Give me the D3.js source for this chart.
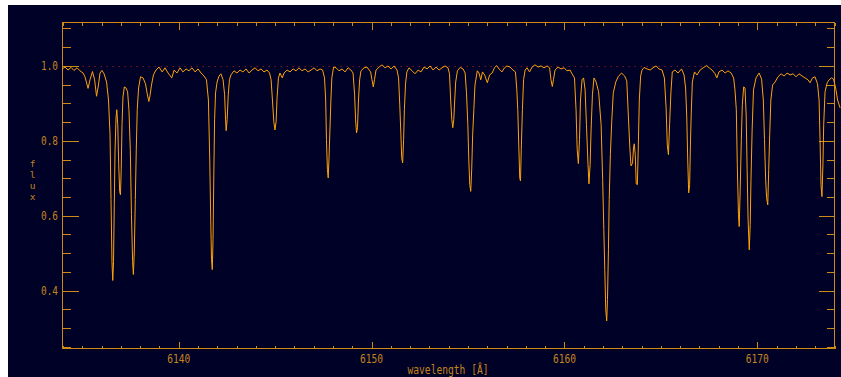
<!DOCTYPE html>
<html>
<head>
<meta charset="utf-8">
<script src="https://cdn.jsdelivr.net/npm/d3@7"></script>
<style>
  html, body { margin: 0; padding: 0; background: #fff; }
  #spectrum { width: 841px; height: 377px; }
  text { font-family: "DejaVu Sans Mono", monospace; }
</style>
</head>
<body>
<div id="spectrum"></div>
<script>
const wavelength = [
  6133.95, 6134.11, 6134.26, 6134.42, 6134.57, 6134.73, 6134.88, 6135.04, 6135.14, 6135.30,
  6135.40, 6135.53, 6135.64, 6135.74, 6135.84, 6135.92, 6136.02, 6136.13, 6136.26, 6136.36,
  6136.44, 6136.49, 6136.54, 6136.58, 6136.62, 6136.66, 6136.70, 6136.75, 6136.79, 6136.84,
  6136.89, 6136.94, 6136.98, 6137.02, 6137.06, 6137.11, 6137.18, 6137.27, 6137.35, 6137.42,
  6137.49, 6137.55, 6137.61, 6137.65, 6137.70, 6137.75, 6137.80, 6137.85, 6137.92, 6138.02,
  6138.15, 6138.28, 6138.36, 6138.45, 6138.51, 6138.59, 6138.69, 6138.82, 6138.98, 6139.14,
  6139.29, 6139.45, 6139.64, 6139.76, 6139.91, 6140.07, 6140.22, 6140.38, 6140.53, 6140.69,
  6140.85, 6141.00, 6141.16, 6141.31, 6141.44, 6141.54, 6141.61, 6141.66, 6141.70, 6141.74,
  6141.78, 6141.82, 6141.86, 6141.91, 6141.99, 6142.09, 6142.19, 6142.30, 6142.38, 6142.43,
  6142.46, 6142.51, 6142.57, 6142.63, 6142.71, 6142.87, 6143.02, 6143.18, 6143.33, 6143.49,
  6143.65, 6143.80, 6143.96, 6144.11, 6144.27, 6144.42, 6144.58, 6144.71, 6144.79, 6144.86,
  6144.93, 6144.99, 6145.05, 6145.10, 6145.17, 6145.25, 6145.37, 6145.46, 6145.62, 6145.77,
  6145.93, 6146.08, 6146.24, 6146.39, 6146.55, 6146.71, 6146.86, 6147.02, 6147.17, 6147.33,
  6147.46, 6147.56, 6147.62, 6147.66, 6147.71, 6147.75, 6147.79, 6147.84, 6147.89, 6147.94,
  6148.03, 6148.16, 6148.31, 6148.47, 6148.62, 6148.78, 6148.93, 6149.04, 6149.12, 6149.17,
  6149.22, 6149.27, 6149.32, 6149.38, 6149.45, 6149.61, 6149.76, 6149.95, 6150.02, 6150.09,
  6150.15, 6150.23, 6150.39, 6150.54, 6150.70, 6150.85, 6151.01, 6151.16, 6151.32, 6151.40,
  6151.46, 6151.52, 6151.56, 6151.61, 6151.66, 6151.70, 6151.76, 6151.83, 6151.94, 6152.10,
  6152.25, 6152.41, 6152.56, 6152.72, 6152.88, 6153.03, 6153.19, 6153.34, 6153.50, 6153.65,
  6153.81, 6153.96, 6154.04, 6154.10, 6154.16, 6154.21, 6154.26, 6154.31, 6154.36, 6154.45,
  6154.59, 6154.74, 6154.85, 6154.92, 6154.99, 6155.04, 6155.09, 6155.14, 6155.19, 6155.24,
  6155.30, 6155.36, 6155.48, 6155.57, 6155.66, 6155.75, 6155.86, 6156.00, 6156.12, 6156.25,
  6156.37, 6156.48, 6156.61, 6156.76, 6156.89, 6157.02, 6157.18, 6157.33, 6157.46, 6157.53,
  6157.58, 6157.63, 6157.68, 6157.72, 6157.76, 6157.82, 6157.88, 6157.96, 6158.06, 6158.19,
  6158.32, 6158.47, 6158.63, 6158.79, 6158.94, 6159.10, 6159.23, 6159.30, 6159.37, 6159.43,
  6159.51, 6159.67, 6159.82, 6159.98, 6160.13, 6160.29, 6160.39, 6160.52, 6160.60, 6160.66,
  6160.72, 6160.78, 6160.83, 6160.91, 6160.99, 6161.07, 6161.14, 6161.22, 6161.27, 6161.33,
  6161.38, 6161.45, 6161.53, 6161.64, 6161.77, 6161.90, 6161.98, 6162.04, 6162.09, 6162.14,
  6162.19, 6162.23, 6162.28, 6162.32, 6162.38, 6162.45, 6162.53, 6162.66, 6162.78, 6162.96,
  6163.12, 6163.23, 6163.31, 6163.39, 6163.45, 6163.53, 6163.58, 6163.62, 6163.67, 6163.72,
  6163.78, 6163.83, 6163.88, 6163.95, 6164.02, 6164.13, 6164.28, 6164.44, 6164.59, 6164.75,
  6164.90, 6165.06, 6165.18, 6165.27, 6165.33, 6165.39, 6165.45, 6165.52, 6165.59, 6165.73,
  6165.89, 6166.07, 6166.20, 6166.28, 6166.34, 6166.39, 6166.44, 6166.49, 6166.53, 6166.57,
  6166.63, 6166.74, 6166.87, 6167.03, 6167.19, 6167.37, 6167.50, 6167.65, 6167.81, 6167.90,
  6168.01, 6168.17, 6168.33, 6168.48, 6168.64, 6168.77, 6168.84, 6168.91, 6168.96, 6169.02,
  6169.06, 6169.11, 6169.17, 6169.22, 6169.29, 6169.36, 6169.42, 6169.47, 6169.52, 6169.58,
  6169.63, 6169.67, 6169.73, 6169.80, 6169.93, 6170.09, 6170.22, 6170.31, 6170.37, 6170.43,
  6170.48, 6170.54, 6170.59, 6170.64, 6170.70, 6170.79, 6170.92, 6171.07, 6171.23, 6171.39,
  6171.54, 6171.70, 6171.85, 6172.01, 6172.16, 6172.32, 6172.47, 6172.63, 6172.73, 6172.86,
  6172.99, 6173.12, 6173.20, 6173.25, 6173.30, 6173.35, 6173.40, 6173.44, 6173.51, 6173.62,
  6173.72, 6173.85, 6173.95, 6174.06, 6174.16, 6174.29
];

const flux = [
  0.992, 0.997, 0.989, 0.996, 0.988, 0.995, 0.987, 0.981, 0.971, 0.940,
  0.963, 0.985, 0.963, 0.919, 0.949, 0.981, 0.988, 0.979, 0.957, 0.909,
  0.816, 0.643, 0.477, 0.427, 0.477, 0.629, 0.776, 0.861, 0.883, 0.843,
  0.736, 0.664, 0.656, 0.723, 0.843, 0.917, 0.944, 0.941, 0.931, 0.883,
  0.776, 0.603, 0.477, 0.443, 0.509, 0.643, 0.776, 0.883, 0.941, 0.971,
  0.968, 0.952, 0.928, 0.905, 0.920, 0.949, 0.976, 0.989, 0.997, 0.984,
  0.995, 0.981, 0.968, 0.989, 0.981, 0.995, 0.984, 0.992, 0.987, 0.995,
  0.984, 0.992, 0.981, 0.973, 0.963, 0.909, 0.749, 0.589, 0.483, 0.456,
  0.536, 0.709, 0.856, 0.928, 0.957, 0.973, 0.979, 0.963, 0.923, 0.856,
  0.827, 0.856, 0.923, 0.963, 0.976, 0.987, 0.981, 0.989, 0.984, 0.992,
  0.981, 0.989, 0.995, 0.987, 0.992, 0.984, 0.989, 0.981, 0.963, 0.909,
  0.851, 0.829, 0.851, 0.915, 0.968, 0.981, 0.968, 0.981, 0.989, 0.984,
  0.992, 0.987, 0.995, 0.987, 0.992, 0.984, 0.989, 0.995, 0.987, 0.992,
  0.989, 0.968, 0.909, 0.803, 0.723, 0.701, 0.749, 0.829, 0.909, 0.968,
  0.997, 0.995, 0.987, 0.992, 0.984, 0.995, 0.989, 0.981, 0.923, 0.856,
  0.821, 0.835, 0.909, 0.963, 0.987, 0.995, 0.997, 0.984, 0.963, 0.944,
  0.963, 0.989, 0.997, 1.003, 0.995, 1.000, 0.992, 1.000, 0.989, 0.968,
  0.896, 0.816, 0.755, 0.741, 0.803, 0.883, 0.952, 0.984, 0.995, 0.987,
  0.979, 0.989, 0.984, 0.997, 0.992, 1.000, 0.989, 0.997, 0.989, 0.995,
  1.000, 0.995, 0.979, 0.909, 0.856, 0.835, 0.856, 0.909, 0.957, 0.987,
  0.996, 0.992, 0.981, 0.928, 0.843, 0.749, 0.683, 0.665, 0.723, 0.816,
  0.883, 0.949, 0.987, 0.981, 0.963, 0.984, 0.976, 0.955, 0.976, 0.981,
  0.995, 1.001, 0.992, 0.984, 0.995, 1.000, 0.997, 0.989, 0.984, 0.936,
  0.883, 0.789, 0.701, 0.693, 0.776, 0.883, 0.963, 0.989, 0.995, 0.984,
  0.997, 1.003, 0.997, 1.000, 0.995, 1.000, 0.995, 0.963, 0.945, 0.963,
  0.989, 0.997, 0.992, 0.995, 0.987, 0.989, 0.979, 0.968, 0.883, 0.776,
  0.739, 0.803, 0.909, 0.963, 0.968, 0.936, 0.843, 0.736, 0.685, 0.736,
  0.829, 0.923, 0.968, 0.957, 0.931, 0.843, 0.696, 0.563, 0.456, 0.349,
  0.319, 0.376, 0.509, 0.643, 0.763, 0.851, 0.928, 0.957, 0.971, 0.981,
  0.973, 0.960, 0.869, 0.781, 0.733, 0.741, 0.781, 0.792, 0.763, 0.685,
  0.683, 0.789, 0.909, 0.973, 0.989, 0.996, 0.992, 0.989, 0.995, 1.000,
  0.992, 0.989, 0.968, 0.888, 0.789, 0.763, 0.843, 0.931, 0.984, 0.989,
  0.981, 0.992, 0.976, 0.941, 0.864, 0.749, 0.661, 0.683, 0.789, 0.869,
  0.957, 0.984, 0.976, 0.989, 0.995, 1.001, 0.995, 0.989, 0.979, 0.968,
  0.984, 0.989, 0.981, 0.987, 0.981, 0.968, 0.936, 0.883, 0.736, 0.603,
  0.571, 0.669, 0.803, 0.896, 0.944, 0.941, 0.869, 0.723, 0.589, 0.509,
  0.576, 0.696, 0.829, 0.936, 0.968, 0.981, 0.965, 0.909, 0.803, 0.696,
  0.648, 0.629, 0.723, 0.816, 0.909, 0.949, 0.957, 0.971, 0.979, 0.973,
  0.981, 0.976, 0.979, 0.971, 0.979, 0.973, 0.968, 0.963, 0.955, 0.968,
  0.971, 0.952, 0.909, 0.803, 0.683, 0.651, 0.736, 0.843, 0.931, 0.955,
  0.963, 0.968, 0.965, 0.941, 0.909, 0.888
];

const xTickValues = [6140, 6150, 6160, 6170];
const xTickLabels = ['6140', '6150', '6160', '6170'];
const yTickValues = [1.0, 0.8, 0.6, 0.4];
const yTickLabels = ['1.0', '0.8', '0.6', '0.4'];
const xTitle = 'wavelength [Å]';
const yTitle = 'flux';
const continuum = 1.0;

const width = 841;
const height = 377;
const plot = { left: 62.5, right: 834.5, top: 22.5, bottom: 348.5 };

const axisColor = '#cf8a16';
const textColor = '#c3841e';
const lineColor = '#ffa20a';

const svg = d3.select('#spectrum')
  .append('svg')
  .attr('width', width)
  .attr('height', height);

svg.append('rect').attr('width', width).attr('height', height).attr('fill', '#fff');
svg.append('rect')
  .attr('x', 8).attr('y', 5)
  .attr('width', width - 8).attr('height', height - 5)
  .attr('fill', '#000126');

const xScale = d3.scaleLinear()
  .domain([6133.975, 6174.0])
  .range([plot.left, plot.right]);

const yScale = d3.scaleLinear()
  .domain([0.2453, 1.116])
  .range([plot.bottom, plot.top]);

const xMinor = d3.range(6134, 6175).filter(v => v % 10 !== 0);
const yMinor = d3.range(5, 23).filter(i => i % 4 !== 0).map(i => i * 0.05);

// continuum reference
svg.append('line')
  .attr('x1', plot.left + 14).attr('x2', plot.right - 2)
  .attr('y1', Math.round(yScale(continuum)) + 0.5)
  .attr('y2', Math.round(yScale(continuum)) + 0.5)
  .attr('stroke', '#7c1622')
  .attr('stroke-width', 1)
  .attr('stroke-dasharray', '1.5,4.5');

// tick marks on all four sides, pointing inward
function ticks(axis, transform) {
  const g = svg.append('g')
    .attr('transform', transform)
    .attr('shape-rendering', 'crispEdges')
    .call(axis);
  g.select('.domain').remove();
  g.selectAll('line').attr('stroke', axisColor);
  g.selectAll('text').remove();
  return g;
}

ticks(d3.axisBottom(xScale).tickValues(xTickValues).tickSize(-7), `translate(0,${plot.bottom})`);
ticks(d3.axisBottom(xScale).tickValues(xMinor).tickSize(-3), `translate(0,${plot.bottom})`);
ticks(d3.axisTop(xScale).tickValues(xTickValues).tickSize(-7), `translate(0,${plot.top})`);
ticks(d3.axisTop(xScale).tickValues(xMinor).tickSize(-3), `translate(0,${plot.top})`);
ticks(d3.axisLeft(yScale).tickValues(yTickValues).tickSize(-16), `translate(${plot.left},0)`);
ticks(d3.axisLeft(yScale).tickValues(yMinor).tickSize(-8), `translate(${plot.left},0)`);
ticks(d3.axisRight(yScale).tickValues(yTickValues).tickSize(-16), `translate(${plot.right},0)`);
ticks(d3.axisRight(yScale).tickValues(yMinor).tickSize(-8), `translate(${plot.right},0)`);

svg.append('rect')
  .attr('x', plot.left).attr('y', plot.top)
  .attr('width', plot.right - plot.left)
  .attr('height', plot.bottom - plot.top)
  .attr('fill', 'none')
  .attr('stroke', axisColor)
  .attr('shape-rendering', 'crispEdges');

// tick labels
svg.selectAll('.xlabel')
  .data(xTickValues)
  .enter().append('text')
  .attr('class', 'xlabel')
  .attr('x', d => xScale(d))
  .attr('y', 362.5)
  .attr('text-anchor', 'middle')
  .attr('font-size', 12)
  .attr('textLength', 23)
  .attr('lengthAdjust', 'spacingAndGlyphs')
  .attr('fill', textColor)
  .text((d, i) => xTickLabels[i]);

svg.selectAll('.ylabel')
  .data(yTickValues)
  .enter().append('text')
  .attr('class', 'ylabel')
  .attr('x', 41)
  .attr('y', d => yScale(d) + 4)
  .attr('font-size', 12)
  .attr('textLength', 17)
  .attr('lengthAdjust', 'spacingAndGlyphs')
  .attr('fill', textColor)
  .text((d, i) => yTickLabels[i]);

svg.append('text')
  .attr('x', 448)
  .attr('y', 373.5)
  .attr('text-anchor', 'middle')
  .attr('font-size', 12)
  .attr('textLength', 81)
  .attr('lengthAdjust', 'spacingAndGlyphs')
  .attr('fill', textColor)
  .text(xTitle);

// y title: letters stacked upright, one text element
svg.append('text')
  .attr('x', 32.5)
  .attr('y', 158)
  .attr('font-size', 9.5)
  .style('writing-mode', 'vertical-rl')
  .style('text-orientation', 'upright')
  .attr('fill', textColor)
  .text(yTitle);

// the spectrum
const points = d3.zip(wavelength, flux);

const line = d3.line()
  .x(d => xScale(d[0]))
  .y(d => yScale(d[1]));

svg.append('path')
  .datum(points)
  .attr('d', line)
  .attr('fill', 'none')
  .attr('stroke', lineColor)
  .attr('stroke-width', 1)
  .attr('stroke-linejoin', 'miter');
</script>
</body>
</html>
